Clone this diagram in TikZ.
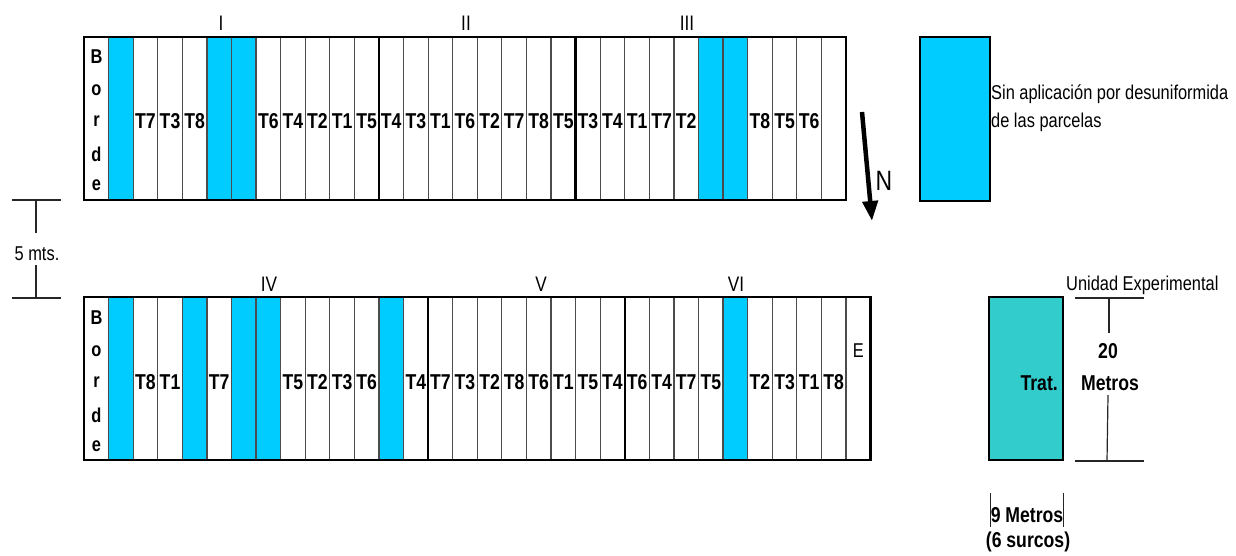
\documentclass[tikz,border=0pt]{standalone}
\usepackage{fontspec}
\setmainfont{Liberation Sans}[FakeStretch=0.82]
\usetikzlibrary{arrows.meta}

\definecolor{sinaplic}{RGB}{0,204,255}
\definecolor{tratcol}{RGB}{51,204,204}
\newcommand{\fsz}[1]{\fontsize{#1}{#1}\selectfont}

\tikzset{
  trt/.style={font=\bfseries\fsz{21.5}, anchor=base, inner sep=0pt},
  brd/.style={font=\bfseries\fsz{20}, anchor=base, inner sep=0pt},
  rom/.style={font=\fsz{21}, anchor=base, inner sep=0pt},
  txt/.style={font=\fsz{20}, anchor=base, inner sep=0pt},
  colline/.style={draw=black!70, line width=1.2pt},
  blkline/.style={draw=black, line width=2.4pt},
  outline/.style={draw=black, line width=2.8pt},
  dimline/.style={draw=black!85, line width=1.2pt},
}

\begin{document}
\begin{tikzpicture}[x=1pt,y=-1pt]
\useasboundingbox (0,0) rectangle (1236,556);
\def\cw{24.58}

%Upper strip: blocks I, II, III
\foreach \k in {1,5,6,25,26}
  \fill[sinaplic] ({84+\k*\cw},37) rectangle ++(\cw,163);
\foreach \k in {1,...,30}
  \draw[colline] ({84+\k*\cw},37) -- ++(0,163);
\foreach \k in {12,20}
  \draw[blkline] ({84+\k*\cw},37) -- ++(0,163);
\draw[outline] (84,37) rectangle ({84+31*\cw},200);

\foreach \k/\t in {2/T7,3/T3,4/T8,7/T6,8/T4,9/T2,10/T1,11/T5,12/T4,13/T3,14/T1,15/T6,
    16/T2,17/T7,18/T8,19/T5,20/T3,21/T4,22/T1,23/T7,24/T2,27/T8,28/T5,29/T6}
  \node[trt] (up\k) at ({84+(\k+0.5)*\cw},129) {\t};
\foreach \l/\y in {B/27,o/59,r/90,d/125,e/154}
  \node[brd] (upb\l) at (96.5,37+\y) {\l};

\node[rom] (blkI) at (221,31) {I};
\node[rom] (blkII) at (466,31) {II};
\node[rom] (blkIII) at (687,31) {III};

%Lower strip: blocks IV, V, VI
\foreach \k in {1,4,6,7,12,26}
  \fill[sinaplic] ({84+\k*\cw},297) rectangle ++(\cw,163);
\foreach \k in {1,...,31}
  \draw[colline] ({84+\k*\cw},297) -- ++(0,163);
\foreach \k in {14,22}
  \draw[blkline] ({84+\k*\cw},297) -- ++(0,163);
\draw[outline] (84,297) rectangle ({84+32*\cw},460);

\foreach \k/\t in {2/T8,3/T1,5/T7,8/T5,9/T2,10/T3,11/T6,13/T4,14/T7,15/T3,16/T2,17/T8,
    18/T6,19/T1,20/T5,21/T4,22/T6,23/T4,24/T7,25/T5,27/T2,28/T3,29/T1,30/T8}
  \node[trt] (lo\k) at ({84+(\k+0.5)*\cw},389) {\t};
\node[txt] (loE) at ({84+31.5*\cw},357) {E};
\foreach \l/\y in {B/27,o/59,r/90,d/125,e/154}
  \node[brd] (lob\l) at (96.5,297+\y) {\l};

\node[rom] (blkIV) at (269,291) {IV};
\node[rom] (blkV) at (541,291) {V};
\node[rom] (blkVI) at (736,291) {VI};

%North
\draw[line width=4.5pt, -{Triangle[length=20pt,width=15pt]}] (862,112) -- (872,221);
\node[font=\fsz{28}, anchor=base, inner sep=0pt] (north) at (884,191) {N};

%Distance between strips
\coordinate (gaptop) at (36,200);
\coordinate (gapbot) at (36,298);
\draw[dimline] (12,200) -- (61,200);
\draw[dimline] (12,298) -- (61,298);
\node[font=\fsz{20}, anchor=base, inner sep=0pt] (gap) at (37,260) {5 mts.};
\draw[dimline] (gaptop) -- ++(0,33);
\draw[dimline] (gapbot) -- ++(0,-33);

%Legend
\draw[fill=sinaplic, line width=1.2pt] (920,37) rectangle (990,201);
\node[txt, anchor=base west] (leg1) at (991,100) {Sin aplicación por desuniformida};
\node[txt, anchor=base west] (leg2) at (991,128) {de las parcelas};

%Experimental unit
\node[txt, anchor=base west] (unidad) at (1066,290) {Unidad Experimental};
\draw[fill=tratcol, line width=2.8pt] (989,297) rectangle (1063,460);
\node[trt, anchor=base east] (trat) at (1058,390) {Trat.};
\coordinate (largo1) at (1109,298);
\coordinate (largo2) at (1107,461);
\draw[dimline] (1075,298) -- (1144,298);
\draw[dimline] (1075,461) -- (1144,461);
\draw[dimline] (largo1) -- ++(0,35);
\draw[dimline] (largo2) -- (1108,395);
\node[trt] (veinte) at (1108,358) {20};
\node[trt] (metros) at (1110,390) {Metros};

\draw[dimline, line width=1pt] (990,493) -- (990,527);
\draw[dimline, line width=1pt] (1063,493) -- (1063,527);
\node[trt] (ancho) at (1027,522) {9 Metros};
\node[trt] (surcos) at (1028,547) {(6 surcos)};
\end{tikzpicture}
\end{document}
